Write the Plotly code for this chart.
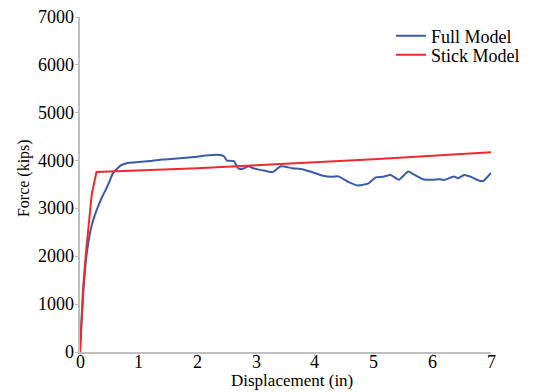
import plotly.graph_objects as go

# Full Model (blue)
full_x = [0, 0.03, 0.06, 0.1, 0.15, 0.2, 0.25, 0.31, 0.38, 0.45, 0.5, 0.56, 0.63, 0.70, 0.78, 0.835,
          1.0, 1.2, 1.4, 1.6, 1.8, 2.0, 2.1, 2.2, 2.34, 2.45, 2.50, 2.62, 2.70, 2.78, 2.87, 2.95,
          3.1, 3.28, 3.42, 3.62, 3.78, 3.95, 4.12, 4.29, 4.40, 4.56, 4.73, 4.84, 4.92, 5.04,
          5.15, 5.29, 5.43, 5.59, 5.70, 5.84, 6.01, 6.12, 6.2, 6.37, 6.44, 6.54, 6.65, 6.79,
          6.87, 7.0]
full_y = [0, 700, 1300, 1900, 2350, 2650, 2850, 3050, 3250, 3420, 3560, 3733, 3830, 3907, 3940, 3955,
          3970, 3990, 4020, 4040, 4060, 4080, 4100, 4110, 4120, 4090, 4000, 3990, 3830, 3830, 3880, 3840,
          3800, 3760, 3880, 3840, 3820, 3760, 3690, 3660, 3670, 3560, 3480, 3500, 3530, 3650,
          3660, 3700, 3600, 3770, 3700, 3610, 3600, 3610, 3595, 3665, 3630, 3700, 3665, 3585,
          3575, 3740]

# Stick Model (red)
stick_x = [0, 0.05, 0.1, 0.15, 0.2, 0.28, 1, 2, 3, 4, 5, 6, 7]
stick_y = [0, 1300, 2050, 2750, 3300, 3760, 3790, 3840, 3900, 3960, 4030, 4100, 4175]

x_ticks = [0, 1, 2, 3, 4, 5, 6, 7]
y_ticks = [0, 1000, 2000, 3000, 4000, 5000, 6000, 7000]

FAM = "Liberation Serif"
TF = dict(family=FAM, size=18, color="black")

W, H = 537, 392
L, R, T, B = 80, 38, 17, 40
PW, PH = W - L - R, H - T - B


def px_x(p):
    return (p - L) / PW


def px_y(p):
    return (H - B - p) / PH


fig = go.Figure()
fig.add_trace(go.Scatter(x=full_x, y=full_y, mode="lines", name="Full Model", legend="legend",
                         line=dict(color="#3a5bab", width=2, shape="spline", smoothing=0.5)))
fig.add_trace(go.Scatter(x=stick_x, y=stick_y, mode="lines", name="Stick Model", legend="legend2",
                         line=dict(color="#ee2a2f", width=2)))

annotations = []
for v in x_ticks:
    annotations.append(dict(text=str(v), x=v, xref="x", y=px_y(362), yref="paper",
                            xanchor="center", yanchor="middle", showarrow=False, font=TF))
for v in y_ticks:
    annotations.append(dict(text=str(v), x=px_x(76), xref="paper", y=v, yref="y",
                            xanchor="right", yanchor="middle", showarrow=False, font=TF))
annotations.append(dict(text="Displacement (in)", x=px_x(296), y=px_y(380), xref="paper", yref="paper",
                        xanchor="center", yanchor="middle", showarrow=False,
                        font=dict(family=FAM, size=17, color="black")))
annotations.append(dict(text="Force (kips)", x=px_x(23), y=px_y(178), xref="paper", yref="paper",
                        xanchor="center", yanchor="middle", textangle=-90, showarrow=False,
                        font=dict(family=FAM, size=16, color="black")))

leg_common = dict(xanchor="left", yanchor="middle", bgcolor="rgba(0,0,0,0)", font=TF,
                  itemwidth=30, borderwidth=0)

fig.update_layout(
    width=W, height=H,
    margin=dict(l=L, r=R, t=T, b=B),
    paper_bgcolor="white", plot_bgcolor="white",
    font=TF,
    showlegend=True,
    legend=dict(x=px_x(397), y=px_y(36), **leg_common),
    legend2=dict(x=px_x(397), y=px_y(55), **leg_common),
    xaxis=dict(range=[0, 7], tickmode="array", tickvals=x_ticks, showticklabels=False,
               showgrid=False, zeroline=False, automargin=False,
               showline=True, linecolor="#bfbfbf", linewidth=1.5, ticks="outside",
               ticklen=3, tickcolor="#bfbfbf"),
    yaxis=dict(range=[0, 7000], tickmode="array", tickvals=y_ticks, showticklabels=False,
               showgrid=False, zeroline=False, automargin=False,
               showline=True, linecolor="#bfbfbf", linewidth=1.5, ticks="outside",
               ticklen=3, tickcolor="#bfbfbf"),
    annotations=annotations,
)

fig.write_html("out.html")
